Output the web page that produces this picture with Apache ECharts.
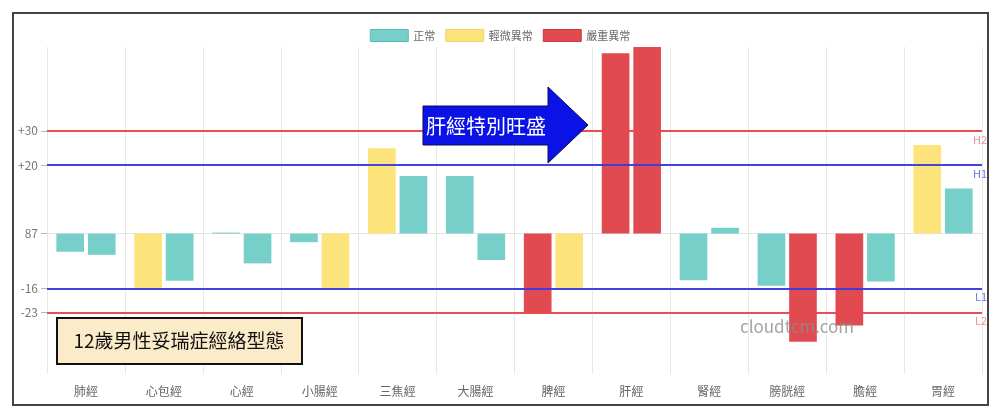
<!DOCTYPE html>
<html><head><meta charset="utf-8">
<script src="https://cdn.jsdelivr.net/npm/echarts@6/dist/echarts.min.js"></script>
<style>html,body{margin:0;padding:0;background:#fff}#c{width:1000px;height:414px}</style>
</head><body><div id="c"></div>
<script>
const categories = ['肺經','心包經','心經','小腸經','三焦經','大腸經','脾經','肝經','腎經','膀胱經','膽經','胃經'];
const leftValues  = [-5.3, -16, 0.3, -2.5, 24.9, 16.8, -23.4, 52.7, -13.6, -15.2, -26.8, 25.9];
const rightValues = [-6.2, -13.8, -8.7, -16, 16.8, -7.7, -16, 54.5, 1.7, -31.6, -14.0, 13.2];
const leftStatus  = ['正常','輕微異常','正常','正常','輕微異常','正常','嚴重異常','嚴重異常','正常','正常','嚴重異常','輕微異常'];
const rightStatus = ['正常','正常','正常','輕微異常','正常','正常','輕微異常','嚴重異常','正常','嚴重異常','正常','正常'];
const statusNames = ['正常','輕微異常','嚴重異常'];
const yTickValues = [30, 20, 0, -16, -23];
const yTickLabels = ['+30', '+20', '87', '-16', '-23'];
const refLines = [
  {name:'H2', value:30},
  {name:'H1', value:20},
  {name:'L1', value:-16},
  {name:'L2', value:-23}
];

const fills = {'正常':'#76d0c9','輕微異常':'#fde47a','嚴重異常':'#e04a50'};
const borders = {'正常':'#5cbcb5','輕微異常':'#efd466','嚴重異常':'#c83a40'};
const lineColors = {'H2':'#e8484c','H1':'#3a3ae0','L1':'#3a3ae0','L2':'#e8484c'};
const lineLabelColors = {'H2':'#ee8a8c','H1':'#6a6ae8','L1':'#6a6ae8','L2':'#ee8a8c'};
const FONT = '"Noto Sans CJK TC", "Noto Sans", sans-serif';

const series = [];
[['L', leftValues, leftStatus], ['R', rightValues, rightStatus]].forEach(([stack, vals, stats]) => {
  statusNames.forEach(st => {
    series.push({
      name: st, type: 'bar', stack: stack,
      barCategoryGap: '24%', barGap: '14%',
      itemStyle: {color: fills[st]},
      emphasis: {disabled: true},
      data: vals.map((v, i) => stats[i] === st ? v : '-')
    });
  });
});
series[0].markLine = {
  silent: true, symbol: 'none', animation: false,
  data: refLines.map(r => ({
    yAxis: r.value, name: r.name,
    lineStyle: {color: lineColors[r.name], width: 2, type: 'solid', opacity: 0.95},
    label: {show: true, position: 'insideEndBottom', formatter: r.name, color: lineLabelColors[r.name], fontSize: 11, fontFamily: FONT, distance: [-5, 3]}
  }))
};

const chart = echarts.init(document.getElementById('c'));
chart.setOption({
  animation: false,
  backgroundColor: '#fff',
  textStyle: {fontFamily: FONT},
  legend: {
    top: 24, left: 'center', itemWidth: 38, itemHeight: 12, itemGap: 10, icon: 'rect',
    data: statusNames.map(n => ({name: n, itemStyle: {color: fills[n], borderColor: borders[n], borderWidth: 1}})),
    textStyle: {color: '#666', fontSize: 11, fontFamily: FONT}
  },
  grid: {left: 47, right: 18, top: 47, bottom: 40},
  xAxis: {
    type: 'category', data: categories,
    axisLine: {lineStyle: {color: '#e4e4e4'}},
    axisTick: {show: true, length: 9, lineStyle: {color: '#e4e4e4'}},
    splitLine: {show: true, lineStyle: {color: '#e8e8e8'}},
    axisLabel: {color: '#666', fontSize: 12, margin: 11, fontFamily: FONT}
  },
  yAxis: {
    type: 'value', min: -41, max: 54.5,
    axisLine: {show: false},
    axisTick: {show: true, length: 6, customValues: yTickValues, lineStyle: {color: '#b8b8b8'}},
    splitLine: {show: true, lineStyle: {color: '#b8b8b8'}},
    axisLabel: {
      customValues: yTickValues, color: '#777', fontSize: 12, margin: 9, fontFamily: FONT,
      formatter: v => { const i = yTickValues.indexOf(v); return i >= 0 ? yTickLabels[i] : ''; }
    }
  },
  series: series,
  graphic: [
    {type: 'rect', z: 100, shape: {x: 13, y: 13, width: 975, height: 392}, style: {fill: 'none', stroke: '#444', lineWidth: 2}},
    {type: 'polygon', z: 100, shape: {points: [[423,106],[548,106],[548,87],[588,125],[548,163],[548,145],[423,145]]},
      style: {fill: '#0b12e6', stroke: '#0a0a60', lineWidth: 1}},
    {type: 'text', z: 101, x: 486, y: 126, style: {text: '肝經特別旺盛', fill: '#fff', font: '20px ' + FONT, textAlign: 'center', textVerticalAlign: 'middle'}},
    {type: 'rect', z: 100, shape: {x: 57, y: 318, width: 245, height: 46}, style: {fill: '#fcebc8', stroke: '#111', lineWidth: 2}},
    {type: 'text', z: 101, x: 179, y: 341, style: {text: '12歲男性妥瑞症經絡型態', fill: '#111', font: '19px ' + FONT, textAlign: 'center', textVerticalAlign: 'middle'}},
    {type: 'text', z: 101, x: 797, y: 327, style: {text: 'cloudtcm.com', fill: 'rgba(140,140,140,0.8)', font: '17px ' + FONT, textAlign: 'center', textVerticalAlign: 'middle'}}
  ]
});
</script></body></html>
